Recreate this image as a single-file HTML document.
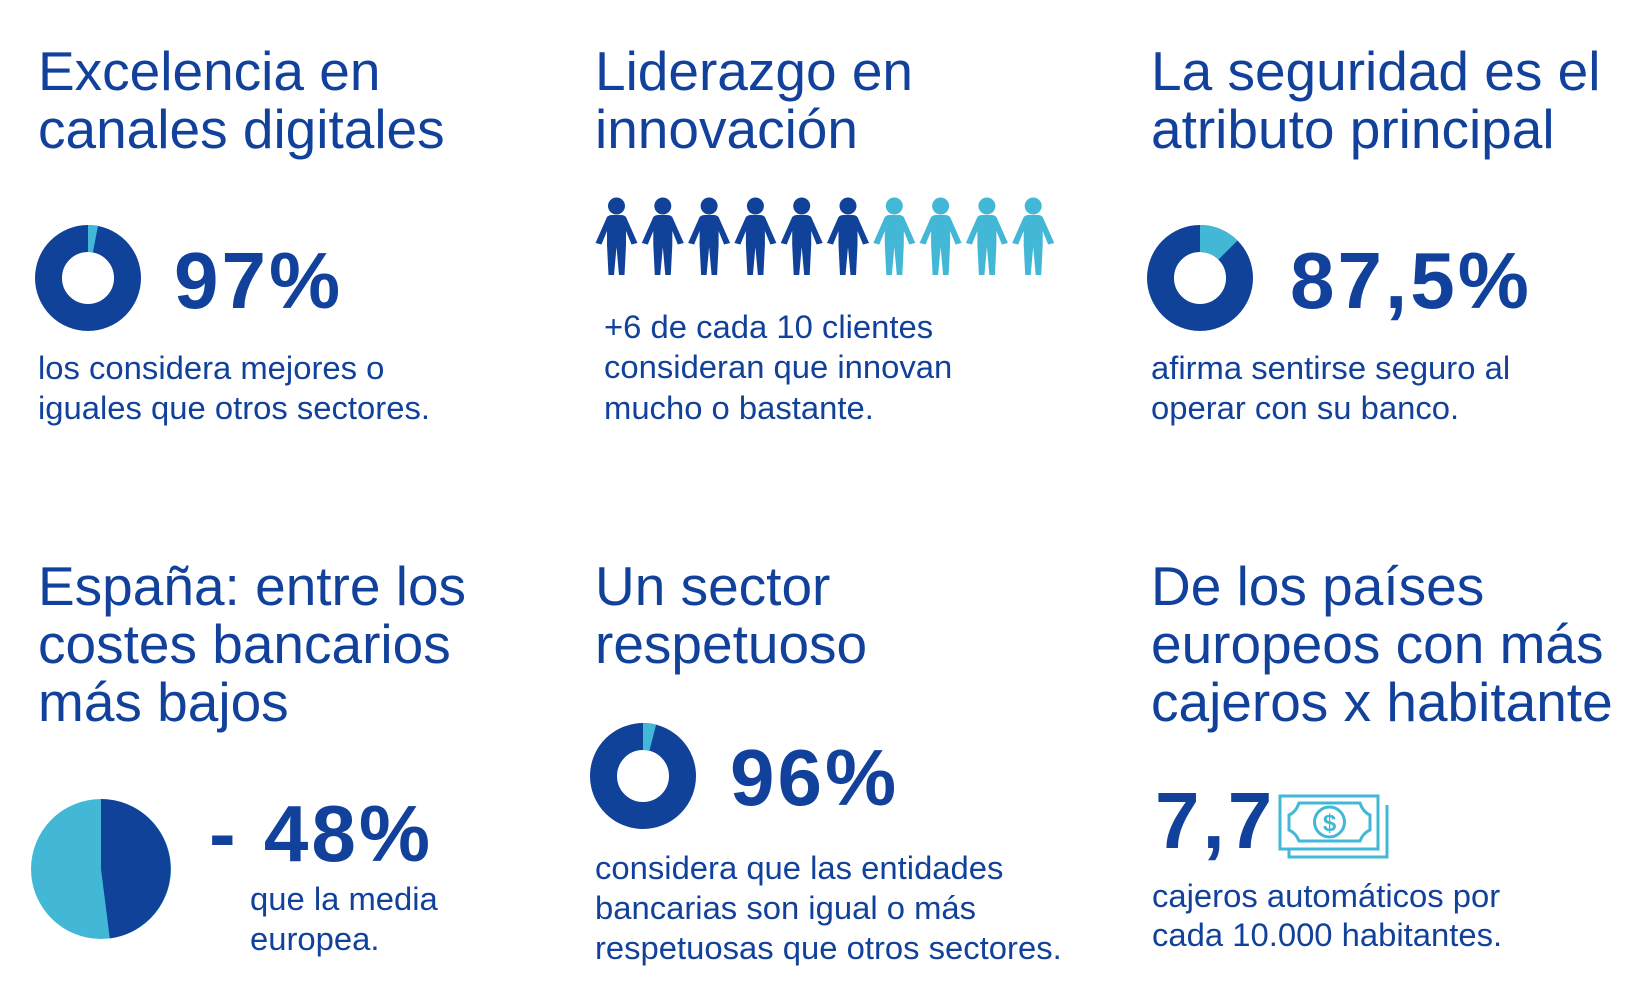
<!DOCTYPE html>
<html><head><meta charset="utf-8"><style>
html,body{margin:0;padding:0;background:#fff;}
svg{display:block;}
text{font-family:"Liberation Sans",Arial,sans-serif;fill:#11419b;}
.t{font-size:55px;}
.b{font-size:80px;font-weight:bold;letter-spacing:3px;}
.s{font-size:32.8px;}
</style></head><body>
<svg width="1648" height="992" viewBox="0 0 1648 992" xmlns="http://www.w3.org/2000/svg">
<defs>
<g id="p">
<circle cx="21.5" cy="9" r="8.5"/>
<path d="M12,20 Q14,18 17,18 L26,18 Q29,18 31,20 L42.5,46 L36.5,47.5 L31,34 L31,48 L29.5,78 L24,78 L21.5,50 L19,78 L13.5,78 L12,48 L12,34 L6.5,47.5 L0.5,46 Z"/>
</g>
</defs>

<text class="t" x="38" y="90">Excelencia en</text>
<text class="t" x="38" y="148">canales digitales</text>
<g transform="translate(88,278) rotate(-90)">
<circle r="39.5" fill="none" stroke="#10429a" stroke-width="27"/>
<circle r="39.5" fill="none" stroke="#42b8d6" stroke-width="27" stroke-dasharray="7.44 300"/>
</g>
<text class="b" x="174" y="308">97%</text>
<text class="s" x="38" y="379">los considera mejores o</text>
<text class="s" x="38" y="419">iguales que otros sectores.</text>

<text class="t" x="595" y="90">Liderazgo en</text>
<text class="t" x="595" y="148">innovación</text>
<g fill="#10429a">
<use href="#p" x="595" y="197"/><use href="#p" x="641.3" y="197"/><use href="#p" x="687.6" y="197"/>
<use href="#p" x="733.9" y="197"/><use href="#p" x="780.2" y="197"/><use href="#p" x="826.5" y="197"/>
</g>
<g fill="#42b8d6">
<use href="#p" x="872.8" y="197"/><use href="#p" x="919.1" y="197"/><use href="#p" x="965.4" y="197"/><use href="#p" x="1011.7" y="197"/>
</g>
<text class="s" x="604" y="338">+6 de cada 10 clientes</text>
<text class="s" x="604" y="378">consideran que innovan</text>
<text class="s" x="604" y="419">mucho o bastante.</text>

<text class="t" x="1151" y="90">La seguridad es el</text>
<text class="t" x="1151" y="148">atributo principal</text>
<g transform="translate(1200,278) rotate(-90)">
<circle r="39.5" fill="none" stroke="#10429a" stroke-width="27"/>
<circle r="39.5" fill="none" stroke="#42b8d6" stroke-width="27" stroke-dasharray="31 300"/>
</g>
<text class="b" x="1290" y="308">87,5%</text>
<text class="s" x="1151" y="379">afirma sentirse seguro al</text>
<text class="s" x="1151" y="419">operar con su banco.</text>

<text class="t" x="38" y="605">España: entre los</text>
<text class="t" x="38" y="663">costes bancarios</text>
<text class="t" x="38" y="721">más bajos</text>
<circle cx="101" cy="869" r="70" fill="#42b8d6"/>
<path d="M101,869 L101,799 A70,70 0 0 1 109.8,938.4 Z" fill="#10429a"/>
<text class="b" x="209" y="861">- 48%</text>
<text class="s" x="250" y="910">que la media</text>
<text class="s" x="250" y="950">europea.</text>

<text class="t" x="595" y="605">Un sector</text>
<text class="t" x="595" y="663">respetuoso</text>
<g transform="translate(643,776) rotate(-90)">
<circle r="39.5" fill="none" stroke="#10429a" stroke-width="27"/>
<circle r="39.5" fill="none" stroke="#42b8d6" stroke-width="27" stroke-dasharray="9.9 300"/>
</g>
<text class="b" x="730" y="805">96%</text>
<text class="s" x="595" y="879">considera que las entidades</text>
<text class="s" x="595" y="919">bancarias son igual o más</text>
<text class="s" x="595" y="959">respetuosas que otros sectores.</text>

<text class="t" x="1151" y="605">De los países</text>
<text class="t" x="1151" y="663">europeos con más</text>
<text class="t" x="1151" y="721">cajeros x habitante</text>
<text class="b" x="1155" y="848">7,7</text>
<g transform="translate(9,0)">
<g fill="none" stroke="#42b8d6" stroke-width="3">
<polyline points="1378,805 1378,857 1280,857 1280,849"/>
<rect x="1271" y="796" width="98" height="53"/>
<path d="M1290,803 L1351,803 Q1354,812 1361,815 L1361,830 Q1354,833 1351,841 L1290,841 Q1287,833 1280,830 L1280,815 Q1287,812 1290,803 Z"/>
<circle cx="1320.5" cy="822" r="15"/>
</g>
<text x="1320.5" y="831" text-anchor="middle" style="font-size:24px;font-weight:bold;fill:#42b8d6">$</text>
</g>
<text class="s" x="1152" y="907">cajeros automáticos por</text>
<text class="s" x="1152" y="946">cada 10.000 habitantes.</text>
</svg>
</body></html>
